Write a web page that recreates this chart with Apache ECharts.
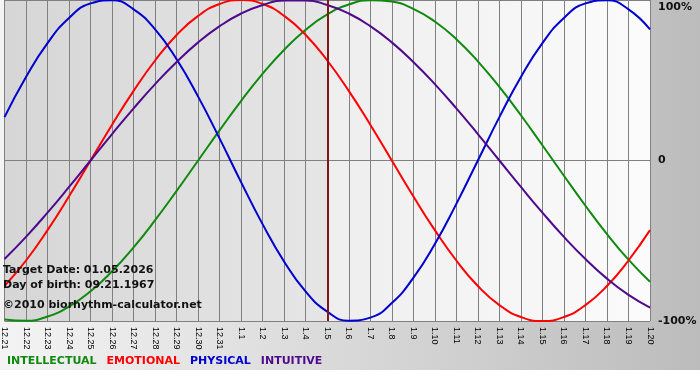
<!DOCTYPE html>
<html>
<head>
<meta charset="utf-8">
<script src="https://cdn.jsdelivr.net/npm/echarts@6/dist/echarts.min.js"></script>
<style>
html,body{margin:0;padding:0;background:#ffffff;}
#chart{width:700px;height:380px;}
</style>
</head>
<body>
<div id="chart"></div>
<script>
const days = ['12.21','12.22','12.23','12.24','12.25','12.26','12.27','12.28','12.29','12.30','12.31',
  '1.1','1.2','1.3','1.4','1.5','1.6','1.7','1.8','1.9','1.10','1.11','1.12','1.13','1.14','1.15','1.16','1.17','1.18','1.19','1.20'];

const intellectual = [-0.990,-0.999,-0.972,-0.910,-0.815,-0.690,-0.541,-0.372,-0.189,0.000,0.189,
  0.372,0.541,0.690,0.815,0.910,0.972,0.999,0.990,0.945,0.866,0.756,0.618,0.458,0.282,0.095,-0.095,-0.282,-0.458,-0.618,-0.756];
const emotional = [-0.782,-0.623,-0.434,-0.223,0.000,0.223,0.434,0.623,0.782,0.901,0.975,
  1.000,0.975,0.901,0.782,0.623,0.434,0.223,0.000,-0.223,-0.434,-0.623,-0.782,-0.901,-0.975,-1.000,-0.975,-0.901,-0.782,-0.623,-0.434];
const physical = [0.270,0.520,0.731,0.888,0.979,0.998,0.942,0.817,0.631,0.398,0.136,
  -0.136,-0.398,-0.631,-0.817,-0.942,-0.998,-0.979,-0.888,-0.731,-0.520,-0.270,0.000,0.270,0.520,0.731,0.888,0.979,0.998,0.942,0.817];
const intuitive = [-0.614,-0.476,-0.325,-0.165,0.000,0.165,0.325,0.476,0.614,0.736,0.837,
  0.916,0.969,0.997,0.997,0.969,0.916,0.837,0.736,0.614,0.476,0.325,0.165,0.000,-0.165,-0.325,-0.476,-0.614,-0.736,-0.837,-0.916];

const seriesNames = ['INTELLECTUAL','EMOTIONAL','PHYSICAL','INTUITIVE'];
const targetDay = '1.5';
const yTickValues = [-1, 0, 1];
const yTickLabels = ['-100%', '0', '100%'];
const infoLines = ['Target Date: 01.05.2026', 'Day of birth: 09.21.1967', '\u00a92010 biorhythm-calculator.net'];

const colors = {INTELLECTUAL:'#0f8a0f', EMOTIONAL:'#ff0000', PHYSICAL:'#0000d0', INTUITIVE:'#4e0a8c'};
const seriesData = {INTELLECTUAL:intellectual, EMOTIONAL:emotional, PHYSICAL:physical, INTUITIVE:intuitive};

const chart = echarts.init(document.getElementById('chart'), null, {renderer:'canvas'});

const series = seriesNames.map(function(n){
  return {
    name:n, type:'line', data:seriesData[n], smooth:0.5, symbol:'none',
    lineStyle:{color:colors[n], width:2}, itemStyle:{color:colors[n]},
    z:3, animation:false
  };
});
series[0].markLine = {
  silent:true, symbol:'none', animation:false,
  label:{show:false},
  lineStyle:{color:'#801818', width:2, type:'solid'},
  data:[{xAxis:targetDay}]
};

const infoPos = [272, 287, 307];

chart.setOption({
  animation:false,
  backgroundColor:'transparent',
  graphic:[
    {type:'rect', z:-10, silent:true, shape:{x:0,y:0,width:700,height:370},
      style:{fill:new echarts.graphic.LinearGradient(0,0,1,0,[{offset:0,color:'#f4f4f4'},{offset:1,color:'#bcbcbc'}])}}
  ].concat(infoLines.map(function(t,i){
    return {type:'text', left:3, top:infoPos[i]-7, z:10, silent:true,
      style:{text:t, fill:'#111111', font:'bold 11px "DejaVu Sans"'}};
  })),
  grid:{left:1, right:50, top:0, bottom:59, show:true, borderWidth:0,
    backgroundColor:new echarts.graphic.LinearGradient(0,0,1,0,[
      {offset:0,color:'#d6d6d6'},{offset:0.5,color:'#e6e6e6'},
      {offset:0.5,color:'#eeeeee'},{offset:1,color:'#fbfbfb'}])},
  legend:{
    data:seriesNames.map(function(n){return {name:n, textStyle:{color:colors[n]}};}),
    left:2, top:355, padding:0, icon:'none', itemWidth:0, itemHeight:12, itemGap:5,
    selectedMode:false,
    textStyle:{fontFamily:'DejaVu Sans', fontWeight:'bold', fontSize:11}
  },
  xAxis:{
    type:'category', data:days, boundaryGap:false,
    axisLine:{show:true, lineStyle:{color:'#808080', width:1}},
    axisTick:{show:true, length:5, interval:0, lineStyle:{color:'#808080'}},
    splitLine:{show:true, interval:0, lineStyle:{color:'#808080', width:1}},
    axisLabel:{interval:0, rotate:-90, fontSize:9, fontFamily:'Liberation Sans', color:'#000', margin:6}
  },
  yAxis:{
    type:'value', position:'right', min:-1, max:1, interval:1,
    axisLine:{show:false}, axisTick:{show:false},
    splitLine:{show:true, lineStyle:{color:'#808080', width:1}},
    axisLabel:{
      margin:8, color:'#111', fontFamily:'DejaVu Sans', fontWeight:'bold', fontSize:11,
      formatter:function(v){
        const idx = yTickValues.indexOf(v);
        const s = idx >= 0 ? yTickLabels[idx] : '';
        return v === 1 ? '{t|' + s + '}' : s;
      },
      rich:{t:{padding:[14,0,0,0], fontFamily:'DejaVu Sans', fontWeight:'bold', fontSize:11, color:'#111'}}
    }
  },
  series:series
});
</script>
</body>
</html>
